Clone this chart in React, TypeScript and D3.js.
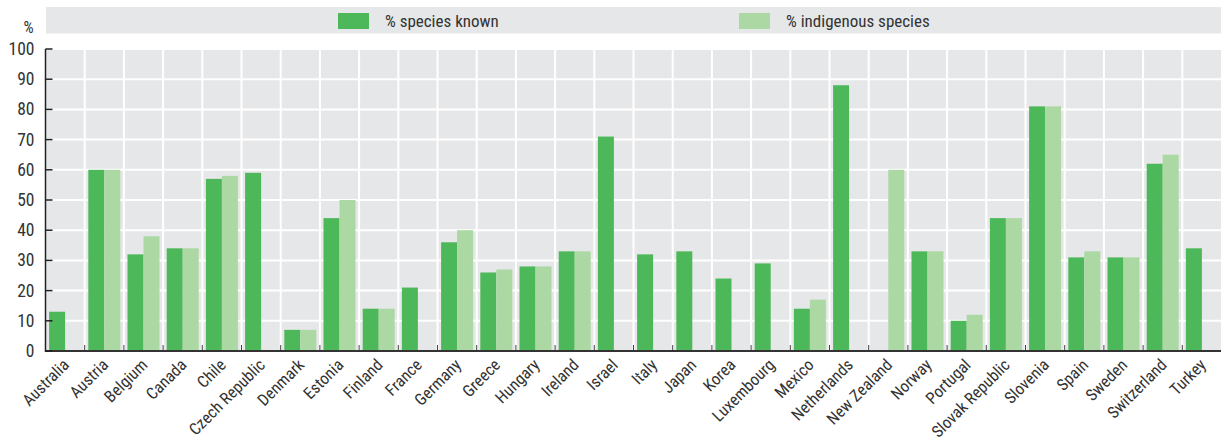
import React from "react";
import * as d3 from "d3";

const categories = [
  "Australia", "Austria", "Belgium", "Canada", "Chile", "Czech Republic", "Denmark",
  "Estonia", "Finland", "France", "Germany", "Greece", "Hungary", "Ireland", "Israel",
  "Italy", "Japan", "Korea", "Luxembourg", "Mexico", "Netherlands", "New Zealand",
  "Norway", "Portugal", "Slovak Republic", "Slovenia", "Spain", "Sweden", "Switzerland", "Turkey",
];
const speciesKnown: (number | null)[] = [
  13, 60, 32, 34, 57, 59, 7, 44, 14, 21, 36, 26, 28, 33, 71, 32, 33, 24, 29, 14, 88, null,
  33, 10, 44, 81, 31, 31, 62, 34,
];
const indigenousSpecies: (number | null)[] = [
  null, 60, 38, 34, 58, null, 7, 50, 14, null, 40, 27, 28, 33, null, null, null, null, null, 17,
  null, 60, 33, 12, 44, 81, 33, 31, 65, null,
];
const yTicks = [0, 10, 20, 30, 40, 50, 60, 70, 80, 90, 100];
const seriesNames = ["% species known", "% indigenous species"];
const colors = ["#4db859", "#acd8a4"];

const W = 1221;
const H = 442;
const left = 45.5;
const right = 1221.5;
const top = 49;
const bottom = 351;
const FONT = "'Liberation Sans Narrow', 'Arial Narrow', 'Roboto Condensed', 'Liberation Sans', sans-serif";

export default function App() {
  const x = d3.scaleBand<string>().domain(categories).range([left, right]).paddingInner(0).paddingOuter(0);
  const y = d3.scaleLinear().domain([0, 100]).range([bottom, top]);
  const bw = x.bandwidth();
  const barW = 16;
  const series = [speciesKnown, indigenousSpecies];

  return (
    <svg
      width={W}
      height={H}
      style={{ position: "absolute", left: 0, top: 0, fontFamily: FONT }}
    >
      <rect x={0} y={0} width={W} height={H} fill="#ffffff" />
      {/* legend */}
      <rect x={46} y={7} width={W - 46} height={26.5} fill="#e6e7e8" />
      {seriesNames.map((name, i) => {
        const sx = i === 0 ? 338 : 739;
        return (
          <g key={name}>
            <rect x={sx} y={13} width={31} height={16} fill={colors[i]} />
            <text x={sx + 47} y={27} fontSize={17} fill="#333">
              {name}
            </text>
          </g>
        );
      })}
      {/* plot background */}
      <rect x={left} y={top} width={right - left} height={bottom - top} fill="#e6e7e8" />
      {/* horizontal gridlines */}
      {yTicks.map((t) => (
        <line key={"h" + t} x1={left} x2={right} y1={y(t)} y2={y(t)} stroke="#fff" strokeWidth={2} />
      ))}
      {/* vertical gridlines */}
      {categories.map((c, i) =>
        i === 0 ? null : (
          <line key={"v" + c} x1={x(c)!} x2={x(c)!} y1={top} y2={bottom} stroke="#fff" strokeWidth={2} />
        )
      )}
      {/* bars */}
      {series.map((vals, si) =>
        categories.map((c, i) => {
          const v = vals[i];
          if (v === null) return null;
          const cx = x(c)! + bw / 2;
          const bx = cx - barW + si * barW;
          return (
            <rect key={si + c} x={bx} y={y(v)} width={barW} height={bottom - y(v)} fill={colors[si]} />
          );
        })
      )}
      {/* bottom ticks */}
      {categories.map((c, i) =>
        i === 0 ? null : (
          <line key={"bt" + c} x1={x(c)!} x2={x(c)!} y1={bottom - 6} y2={bottom} stroke="#444" strokeWidth={1} />
        )
      )}
      {/* axes */}
      <line x1={left} x2={right} y1={bottom} y2={bottom} stroke="#333" strokeWidth={2} />
      <line x1={left} x2={left} y1={top} y2={bottom + 1} stroke="#222" strokeWidth={1.5} />
      {yTicks.map((t) => (
        <g key={"yt" + t}>
          <line x1={left} x2={left + 7} y1={y(t)} y2={y(t)} stroke="#222" strokeWidth={1.5} />
          <text x={34.5} y={y(t) + 6} fontSize={17.5} fill="#333" textAnchor="end">
            {t}
          </text>
        </g>
      ))}
      <text x={33.5} y={33} fontSize={16} fill="#333" textAnchor="end">
        %
      </text>
      {/* x labels */}
      {categories.map((c) => {
        const cx = x(c)! + bw / 2;
        return (
          <text
            key={"xl" + c}
            transform={`translate(${cx + 5},${bottom + 15}) rotate(-45)`}
            fontSize={16.5}
            fill="#333"
            textAnchor="end"
          >
            {c}
          </text>
        );
      })}
    </svg>
  );
}
